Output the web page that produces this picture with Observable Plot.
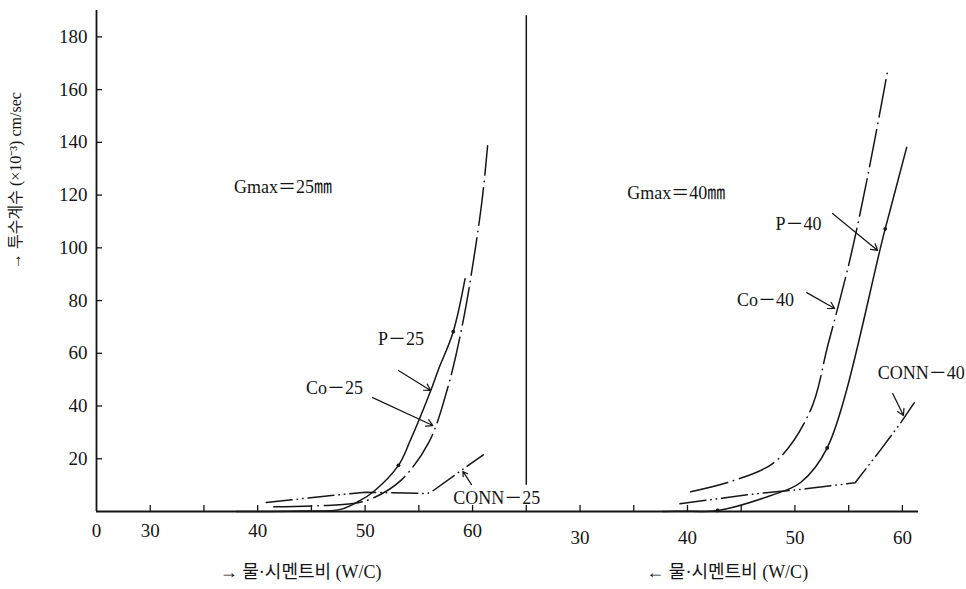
<!DOCTYPE html>
<html><head><meta charset="utf-8">
<script src="https://cdn.jsdelivr.net/npm/d3@7"></script>
<script src="https://cdn.jsdelivr.net/npm/@observablehq/plot@0.6"></script>
<style>body{margin:0;background:#fff;} #chart svg{display:block}</style>
</head><body><div id="chart"></div>
<script>
// Shared x axis: left panel (Gmax=25mm) W/C as is; right panel (Gmax=40mm) W/C shifted by 40
const panelOffset = {left: 0, right: 40};

// Gmax = 25 mm (W/C %, permeability ×10^-3 cm/sec)
const p25WC    = [38.0, 44.0, 47.7, 49.5, 50.8, 53.1, 54.2, 56.1, 56.8, 58.2, 59.3];
const p25K     = [0, 0.2, 0.8, 4.1, 7.6, 17.5, 26.9, 45.8, 53.6, 68.2, 88.3];
const co25WC   = [41.5, 45.6, 48.9, 50.8, 53.3, 55.9, 57.7, 59.1, 60.1, 60.9, 61.4];
const co25K    = [1.8, 2.2, 3.0, 5.2, 11.7, 26.0, 47.1, 71.8, 95.6, 118.6, 138.7];
const conn25WC = [40.8, 45.8, 50.0, 55.8, 56.3, 59.5, 61.0];
const conn25K  = [3.4, 5.6, 7.3, 6.8, 7.8, 17.2, 21.5];

// Gmax = 40 mm
const p40WC    = [37.7, 39.6, 42.8, 47.7, 50.5, 53.0, 58.4, 60.4];
const p40K     = [0, 0.1, 0.4, 6.0, 10.9, 24.1, 107.2, 138.1];
const co40WC   = [40.3, 44.2, 48.2, 51.4, 53.1, 55.0, 56.3, 57.4, 58.6];
const co40K    = [7.5, 11.6, 19.0, 37.9, 63.6, 93.5, 117.7, 140.4, 166.5];
const conn40WC = [39.3, 45.4, 51.0, 55.6, 57.9, 59.8, 61.1];
const conn40K  = [2.9, 6.3, 8.6, 10.9, 23.0, 33.4, 41.2];

// measured points marked on the P curves
const p25DotWC = [53.1, 58.2];
const p25DotK  = [17.5, 68.2];
const p40DotWC = [42.8, 53.0, 58.4];
const p40DotK  = [0.4, 24.1, 107.2];

// axes
const yTicks = [20, 40, 60, 80, 100, 120, 140, 160, 180];
const xTickMarks = [30, 35, 40, 45, 50, 55, 60, 65, 70, 75, 80, 85, 90, 95, 100];
const leftTickPos = [25, 30, 40, 50, 60];
const leftTickLabels = ["0", "30", "40", "50", "60"];
const rightTickPos = [70, 80, 90, 100];
const rightTickLabels = ["30", "40", "50", "60"];
const divider = [{x: 65, y1: 10, y2: 188}];

// annotations (shared-axis coordinates)
const labels = [
  {text: "Gmax＝25㎜", x: 37.8, y: 122.9, anchor: "start"},
  {text: "Gmax＝40㎜", x: 74.4, y: 120.6, anchor: "start"},
  {text: "P－25", x: 51.2, y: 65.2, anchor: "start"},
  {text: "Co－25", x: 49.8, y: 46.6, anchor: "end"},
  {text: "CONN－25", x: 58.2, y: 4.9, anchor: "start"},
  {text: "P－40", x: 88.2, y: 108.8, anchor: "start"},
  {text: "Co－40", x: 84.6, y: 80.3, anchor: "start"},
  {text: "CONN－40", x: 97.7, y: 52.3, anchor: "start"}
];
const arrows = [
  {x1: 53.1, y1: 53.5, x2: 56.1, y2: 45.9},
  {x1: 50.7, y1: 43.2, x2: 56.3, y2: 32.6},
  {x1: 59.9, y1: 10.2, x2: 59.1, y2: 15.2},
  {x1: 93.5, y1: 113.0, x2: 97.7, y2: 99.0},
  {x1: 91.1, y1: 83.0, x2: 93.7, y2: 77.0},
  {x1: 99.1, y1: 44.7, x2: 100.1, y2: 36.4}
];
const xTitles = [
  {text: "→ 물·시멘트비 (W/C)", x: 44.0},
  {text: "← 물·시멘트비 (W/C)", x: 83.7}
];
const yTitle = [{text: "→ 투수계수 (×10⁻³) cm/sec", y: 92}];

function series(wc, k, panel) {
  return wc.map((w, i) => ({x: w + panelOffset[panel], y: k[i]}));
}
const P25 = series(p25WC, p25K, "left");
const CO25 = series(co25WC, co25K, "left");
const CONN25 = series(conn25WC, conn25K, "left");
const P40 = series(p40WC, p40K, "right");
const CO40 = series(co40WC, co40K, "right");
const CONN40 = series(conn40WC, conn40K, "right");
const PDOTS = [...series(p25DotWC, p25DotK, "left"), ...series(p40DotWC, p40DotK, "right")];

const ink = "#151515";
const lineW = 1.5;
const coDash = "38,6,0.5,6";
const connDash = "26,5,0.5,5,0.5,5";

const chart = Plot.plot({
  width: 966, height: 589,
  marginLeft: 96, marginRight: 48, marginTop: 10, marginBottom: 78,
  x: {domain: [25, 101.5]},
  y: {domain: [0, 190]},
  style: {fontFamily: "'Liberation Serif', 'Noto Sans CJK KR', serif", fontSize: "18px", background: "#fff", color: ink},
  marks: [
    Plot.ruleY([0], {stroke: ink, strokeWidth: 1.8}),
    Plot.ruleX([25], {stroke: ink, strokeWidth: 1.8}),
    Plot.axisY(yTicks, {tickSize: -6, tickPadding: 15, label: null, strokeWidth: 1.3, fontSize: 19}),
    Plot.axisX(xTickMarks, {tickSize: -6, fill: "none", label: null, strokeWidth: 1.3}),
    Plot.axisX(leftTickPos, {tickSize: 0, tickPadding: 12, label: null, fontSize: 19, tickFormat: d => leftTickLabels[leftTickPos.indexOf(d)]}),
    Plot.axisX(rightTickPos, {tickSize: 0, tickPadding: 19, label: null, fontSize: 19, tickFormat: d => rightTickLabels[rightTickPos.indexOf(d)]}),
    Plot.ruleX(divider, {x: "x", y1: "y1", y2: "y2", stroke: ink, strokeWidth: 1.5}),
    Plot.line(P25, {x: "x", y: "y", curve: "catmull-rom", stroke: ink, strokeWidth: lineW}),
    Plot.line(CO25, {x: "x", y: "y", curve: "catmull-rom", stroke: ink, strokeWidth: lineW, strokeDasharray: coDash, strokeLinecap: "round"}),
    Plot.line(CONN25, {x: "x", y: "y", curve: "linear", stroke: ink, strokeWidth: lineW, strokeDasharray: connDash, strokeLinecap: "round"}),
    Plot.line(P40, {x: "x", y: "y", curve: "catmull-rom", stroke: ink, strokeWidth: lineW}),
    Plot.line(CO40, {x: "x", y: "y", curve: "catmull-rom", stroke: ink, strokeWidth: lineW, strokeDasharray: coDash, strokeLinecap: "round"}),
    Plot.line(CONN40, {x: "x", y: "y", curve: "linear", stroke: ink, strokeWidth: lineW, strokeDasharray: connDash, strokeLinecap: "round"}),
    Plot.dot(PDOTS, {x: "x", y: "y", r: 1.9, fill: ink, stroke: "none"}),
    Plot.arrow(arrows, {x1: "x1", y1: "y1", x2: "x2", y2: "y2", stroke: ink, strokeWidth: 1.2, headLength: 9}),
    Plot.text(labels.filter(d => d.anchor === "start"), {x: "x", y: "y", text: "text", textAnchor: "start", fill: ink}),
    Plot.text(labels.filter(d => d.anchor === "end"), {x: "x", y: "y", text: "text", textAnchor: "end", fill: ink}),
    Plot.text(xTitles, {x: "x", text: "text", frameAnchor: "bottom", dy: 66, fontSize: 18, fill: ink, style: "letter-spacing:1px"}),
    Plot.text(yTitle, {y: "y", text: "text", frameAnchor: "left", dx: -81, rotate: -90, fontSize: 16, fill: ink})
  ]
});
document.getElementById("chart").appendChild(chart);
</script>
</body></html>
